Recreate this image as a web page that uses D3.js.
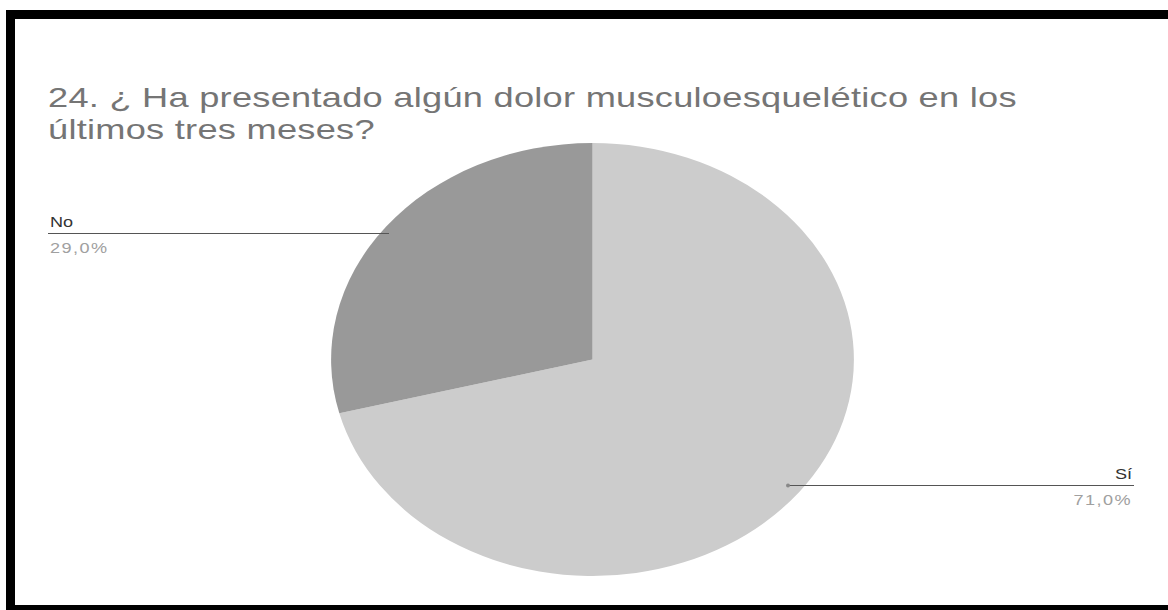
<!DOCTYPE html>
<html>
<head>
<meta charset="utf-8">
<script src="https://cdn.jsdelivr.net/npm/d3@7"></script>
<style>
  html, body { margin: 0; padding: 0; background: #fff; }
  svg { display: block; }
  text { font-family: "Liberation Sans", Arial, sans-serif; }
</style>
</head>
<body>
<svg id="chart" width="1168" height="610"></svg>
<script>
const titleLines = ["24. ¿ Ha presentado algún dolor musculoesquelético en los", "últimos tres meses?"];
const categories = ["Sí", "No"];
const values = [71.0, 29.0];
const colors = ["#cccccc", "#999999"];

const W = 1168, H = 610;
const sx = 262 / 217;          // horizontal stretch of the original picture
const tsx = sx * 30 / 28;      // title stretch (same width, slightly shorter glyphs)
const cx = 592.5, cy = 359.5, ry = 216.5;

const svg = d3.select("#chart");
svg.append("rect").attr("width", W).attr("height", H).attr("fill", "#fff");

// frame
svg.append("rect").attr("x", 6).attr("y", 10).attr("width", W - 6).attr("height", 9).attr("fill", "#000");
svg.append("rect").attr("x", 6).attr("y", 10).attr("width", 9).attr("height", H - 10).attr("fill", "#000");
svg.append("rect").attr("x", 6).attr("y", 605).attr("width", W - 6).attr("height", 5).attr("fill", "#000");

// title
const tg = svg.append("g").attr("transform", `scale(${tsx},1)`);
tg.selectAll("text.title").data(titleLines).join("text")
  .attr("class", "title")
  .attr("x", 48 / tsx)
  .attr("y", (d, i) => 107 + i * 32)
  .attr("font-size", 28)
  .attr("letter-spacing", 0.2)
  .attr("fill", "#757575")
  .text(d => d);

const g = svg.append("g").attr("transform", `scale(${sx},1)`);

// pie
const data = categories.map((c, i) => ({ cat: c, val: values[i], color: colors[i] }));
const pie = d3.pie().sort(null).value(d => d.val);
const arcs = pie(data);
const arc = d3.arc().innerRadius(0).outerRadius(ry);
const pg = g.append("g").attr("transform", `translate(${cx / sx},${cy})`);
pg.selectAll("path").data(arcs).join("path")
  .attr("d", arc)
  .attr("fill", d => d.data.color);

// labels
const fmt = v => d3.format(".1f")(v).replace(".", ",") + "%";
const labelSpec = {
  "No": { y: 233.5, x0: 48, x1: 389, anchor: "start", tx: 50 },
  "Sí": { y: 485.5, x0: 788, x1: 1134, anchor: "end", tx: 1132 }
};
arcs.forEach(a => {
  const s = labelSpec[a.data.cat];
  g.append("line")
    .attr("x1", s.x0 / sx).attr("x2", s.x1 / sx)
    .attr("y1", s.y).attr("y2", s.y)
    .attr("stroke", "#555").attr("stroke-width", 1);
  if (a.data.cat === "Sí") {
    g.append("ellipse").attr("cx", s.x0 / sx).attr("cy", s.y).attr("rx", 2 / sx).attr("ry", 2).attr("fill", "#888");
  }
  g.append("text")
    .attr("x", s.tx / sx).attr("y", s.y - 6.5)
    .attr("text-anchor", s.anchor)
    .attr("font-size", 15)
    .attr("fill", "#333")
    .text(a.data.cat);
  g.append("text")
    .attr("x", s.tx / sx).attr("y", s.y + 19.5)
    .attr("text-anchor", s.anchor)
    .attr("font-size", 15)
    .attr("letter-spacing", 1.2)
    .attr("fill", "#a0a0a0")
    .text(fmt(a.data.val));
});
</script>
</body>
</html>
